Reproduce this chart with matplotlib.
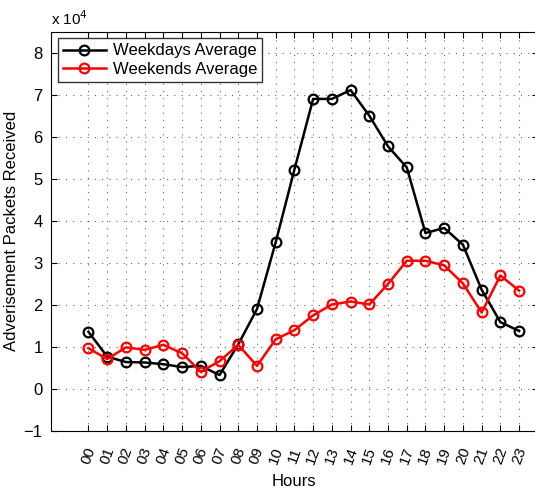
import matplotlib
matplotlib.use("Agg")
import matplotlib.pyplot as plt
import numpy as np

plt.rcParams['font.family'] = ['Liberation Sans', 'DejaVu Sans']

hours = ["%02d" % h for h in range(24)]
weekdays = [13600, 7700, 6400, 6300, 5900, 5200, 5500, 3300, 10600, 19000,
            34900, 52200, 69000, 69000, 71100, 65000, 57700, 52700, 37100, 38300,
            34300, 23600, 15900, 13800]
weekends = [9700, 7100, 9900, 9300, 10500, 8500, 4100, 6600, 10500, 5500,
            11800, 14000, 17500, 20100, 20800, 20100, 25000, 30500, 30500, 29400,
            25100, 18200, 27000, 23400]

fig = plt.figure(figsize=(5.35, 4.91), dpi=100)
ax = fig.add_axes([0.0953, 0.1222, 0.910, 0.8133])

x = np.arange(len(hours))
ax.plot(x, weekdays, '-o', color='black', lw=1.8, ms=7, mfc='none', mew=1.6,
        label='Weekdays Average')
ax.plot(x, weekends, '-o', color='red', lw=1.8, ms=7, mfc='none', mew=1.6,
        label='Weekends Average')

ax.set_xlim(-2, 24)
ax.set_ylim(-1e4, 8.5e4)
ax.set_xticks(x)
ax.set_xticklabels(hours, rotation=70, fontsize=11, ha='center')
yt = np.arange(-1, 9)
ax.set_yticks(yt * 1e4)
ax.set_yticklabels(["\u2212%d" % -v if v < 0 else str(v) for v in yt], fontsize=12)
ax.tick_params(direction='in', top=True, right=True, length=4)
ax.tick_params(axis='x', pad=10)
ax.tick_params(axis='y', pad=6)
ax.grid(True, linestyle=(0, (1, 5.5)), color='black', lw=0.8, alpha=0.6)

ax.text(0.0, 1.01, r'x 10$^4$', transform=ax.transAxes, fontsize=11,
        ha='left', va='bottom')

ax.set_xlabel('Hours', fontsize=12, labelpad=6)
ax.set_ylabel('Adverisement Packets Received', fontsize=12, labelpad=3)

leg = ax.legend(loc='upper left', fontsize=12, frameon=True, fancybox=False,
                edgecolor='black', borderaxespad=0.4, handlelength=2.6,
                borderpad=0.3, labelspacing=0.2, handletextpad=0.4)
leg.get_frame().set_linewidth(1.0)

fig.savefig('out.png', dpi=100)
